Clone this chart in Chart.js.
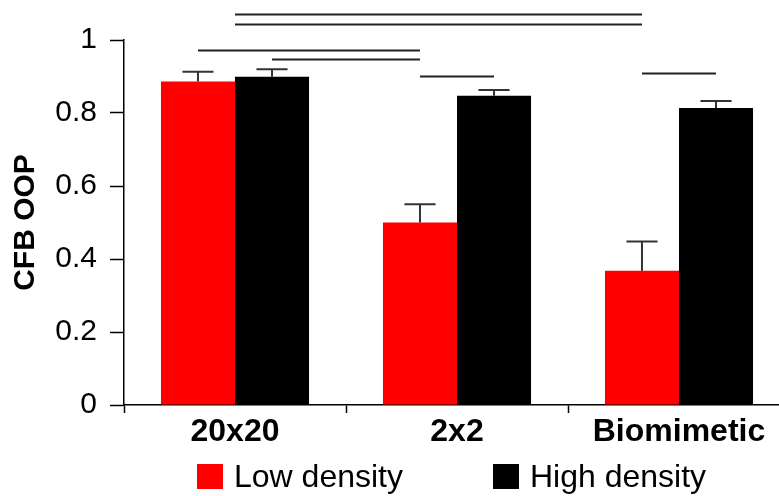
<!DOCTYPE html>
<html lang="en">
<head>
    <meta charset="UTF-8">
    <title>CFB OOP</title>
    <script src="https://cdn.jsdelivr.net/npm/chart.js"></script>
    <style>
        body {
            margin: 0;
            width: 779px;
            height: 496px;
            overflow: hidden;
            background: white;
            position: relative;
            font-family: "Liberation Sans", Arial, sans-serif;
        }
        #chart {
            position: absolute;
            left: 0;
            top: 0;
        }
        #legend {
            position: absolute;
            left: 197px;
            top: 458px;
            width: 700px;
            display: flex;
            align-items: center;
            white-space: nowrap;
            font-size: 32px;
            line-height: 37px;
            color: #000;
        }
        .item {
            display: flex;
            align-items: center;
            flex-shrink: 0;
            margin-right: 90px;
        }
        .swatch {
            width: 26px;
            height: 25px;
            margin-right: 11px;
            flex-shrink: 0;
        }
    </style>
</head>
<body>
    <canvas id="chart" width="904" height="496"></canvas>
    <div id="legend"></div>

    <script>
        const categories = ['20x20', '2x2', 'Biomimetic'];
        const lowDensity = [0.886, 0.500, 0.368];
        const highDensity = [0.899, 0.847, 0.814];
        const lowErr = [0.027, 0.050, 0.080];
        const highErr = [0.021, 0.016, 0.019];

        // significance lines: [category, dataset] at each end (null = middle of the pair), then height
        const sigLines = [
            [[0, null], [2, 0], 1.072],
            [[0, null], [2, 0], 1.045],
            [[0, 0], [1, 0], 0.973],
            [[0, 1], [1, 0], 0.948],
            [[1, 0], [1, 1], 0.901],
            [[2, 0], [2, 1], 0.909]
        ];

        const errors = [lowErr, highErr];
        const font = '"Liberation Sans", Arial, sans-serif';

        const errorBars = {
            id: 'errorBars',
            afterDatasetsDraw(chart) {
                const ctx = chart.ctx;
                const y = chart.scales.y;
                ctx.save();
                ctx.strokeStyle = '#333';
                ctx.lineWidth = 2;
                chart.data.datasets.forEach((ds, i) => {
                    chart.getDatasetMeta(i).data.forEach((bar, j) => {
                        const top = y.getPixelForValue(ds.data[j] + errors[i][j]);
                        const half = bar.width * 0.21;
                        ctx.beginPath();
                        ctx.moveTo(bar.x, bar.y);
                        ctx.lineTo(bar.x, top);
                        ctx.moveTo(bar.x - half, top);
                        ctx.lineTo(bar.x + half, top);
                        ctx.stroke();
                    });
                });
                ctx.restore();
            }
        };

        const sigMarks = {
            id: 'sigMarks',
            afterDraw(chart) {
                const ctx = chart.ctx;
                const y = chart.scales.y;
                const xOf = ([c, d]) => {
                    if (d === null) return chart.scales.x.getPixelForValue(c);
                    return chart.getDatasetMeta(d).data[c].x;
                };
                ctx.save();
                ctx.strokeStyle = '#222';
                ctx.lineWidth = 2;
                sigLines.forEach(([a, b, v]) => {
                    const py = Math.round(y.getPixelForValue(v)) + 0.5;
                    ctx.beginPath();
                    ctx.moveTo(xOf(a), py);
                    ctx.lineTo(xOf(b), py);
                    ctx.stroke();
                });
                ctx.restore();
            }
        };

        const chart = new Chart(document.getElementById('chart'), {
            type: 'bar',
            data: {
                labels: categories,
                datasets: [
                    { label: 'Low density', data: lowDensity, backgroundColor: '#ff0000' },
                    { label: 'High density', data: highDensity, backgroundColor: '#000000' }
                ]
            },
            options: {
                responsive: false,
                animation: false,
                categoryPercentage: 0.667,
                barPercentage: 1,
                layout: { padding: { top: 40, right: 114, left: 0, bottom: 0 } },
                plugins: {
                    legend: { display: false },
                    tooltip: { enabled: false }
                },
                scales: {
                    x: {
                        offset: true,
                        grid: { offset: true, drawOnChartArea: false, tickLength: 8, color: '#000', tickWidth: 1.5 },
                        border: { color: '#000', width: 1.5 },
                        ticks: { color: '#000', padding: 0, font: { family: font, size: 32, weight: 'bold' } },
                        afterFit(scale) { scale.height = 91; }
                    },
                    y: {
                        min: 0,
                        max: 1,
                        ticks: {
                            stepSize: 0.2,
                            color: '#000',
                            padding: 13,
                            font: { family: font, size: 30 },
                            callback: v => String(+v.toFixed(1))
                        },
                        grid: { drawOnChartArea: false, tickLength: 14, color: '#000', tickWidth: 1.5 },
                        border: { color: '#000', width: 1.5 },
                        title: {
                            display: true,
                            text: 'CFB OOP',
                            color: '#000',
                            padding: 8,
                            font: { family: font, size: 30, weight: 'bold' }
                        },
                        afterFit(scale) { scale.width = 124; }
                    }
                }
            },
            plugins: [errorBars, sigMarks]
        });

        // legend built from the datasets
        const legend = document.getElementById('legend');
        chart.data.datasets.forEach(ds => {
            const item = document.createElement('div');
            item.className = 'item';
            const sw = document.createElement('span');
            sw.className = 'swatch';
            sw.style.background = ds.backgroundColor;
            const txt = document.createElement('span');
            txt.textContent = ds.label;
            item.appendChild(sw);
            item.appendChild(txt);
            legend.appendChild(item);
        });
    </script>
</body>
</html>
